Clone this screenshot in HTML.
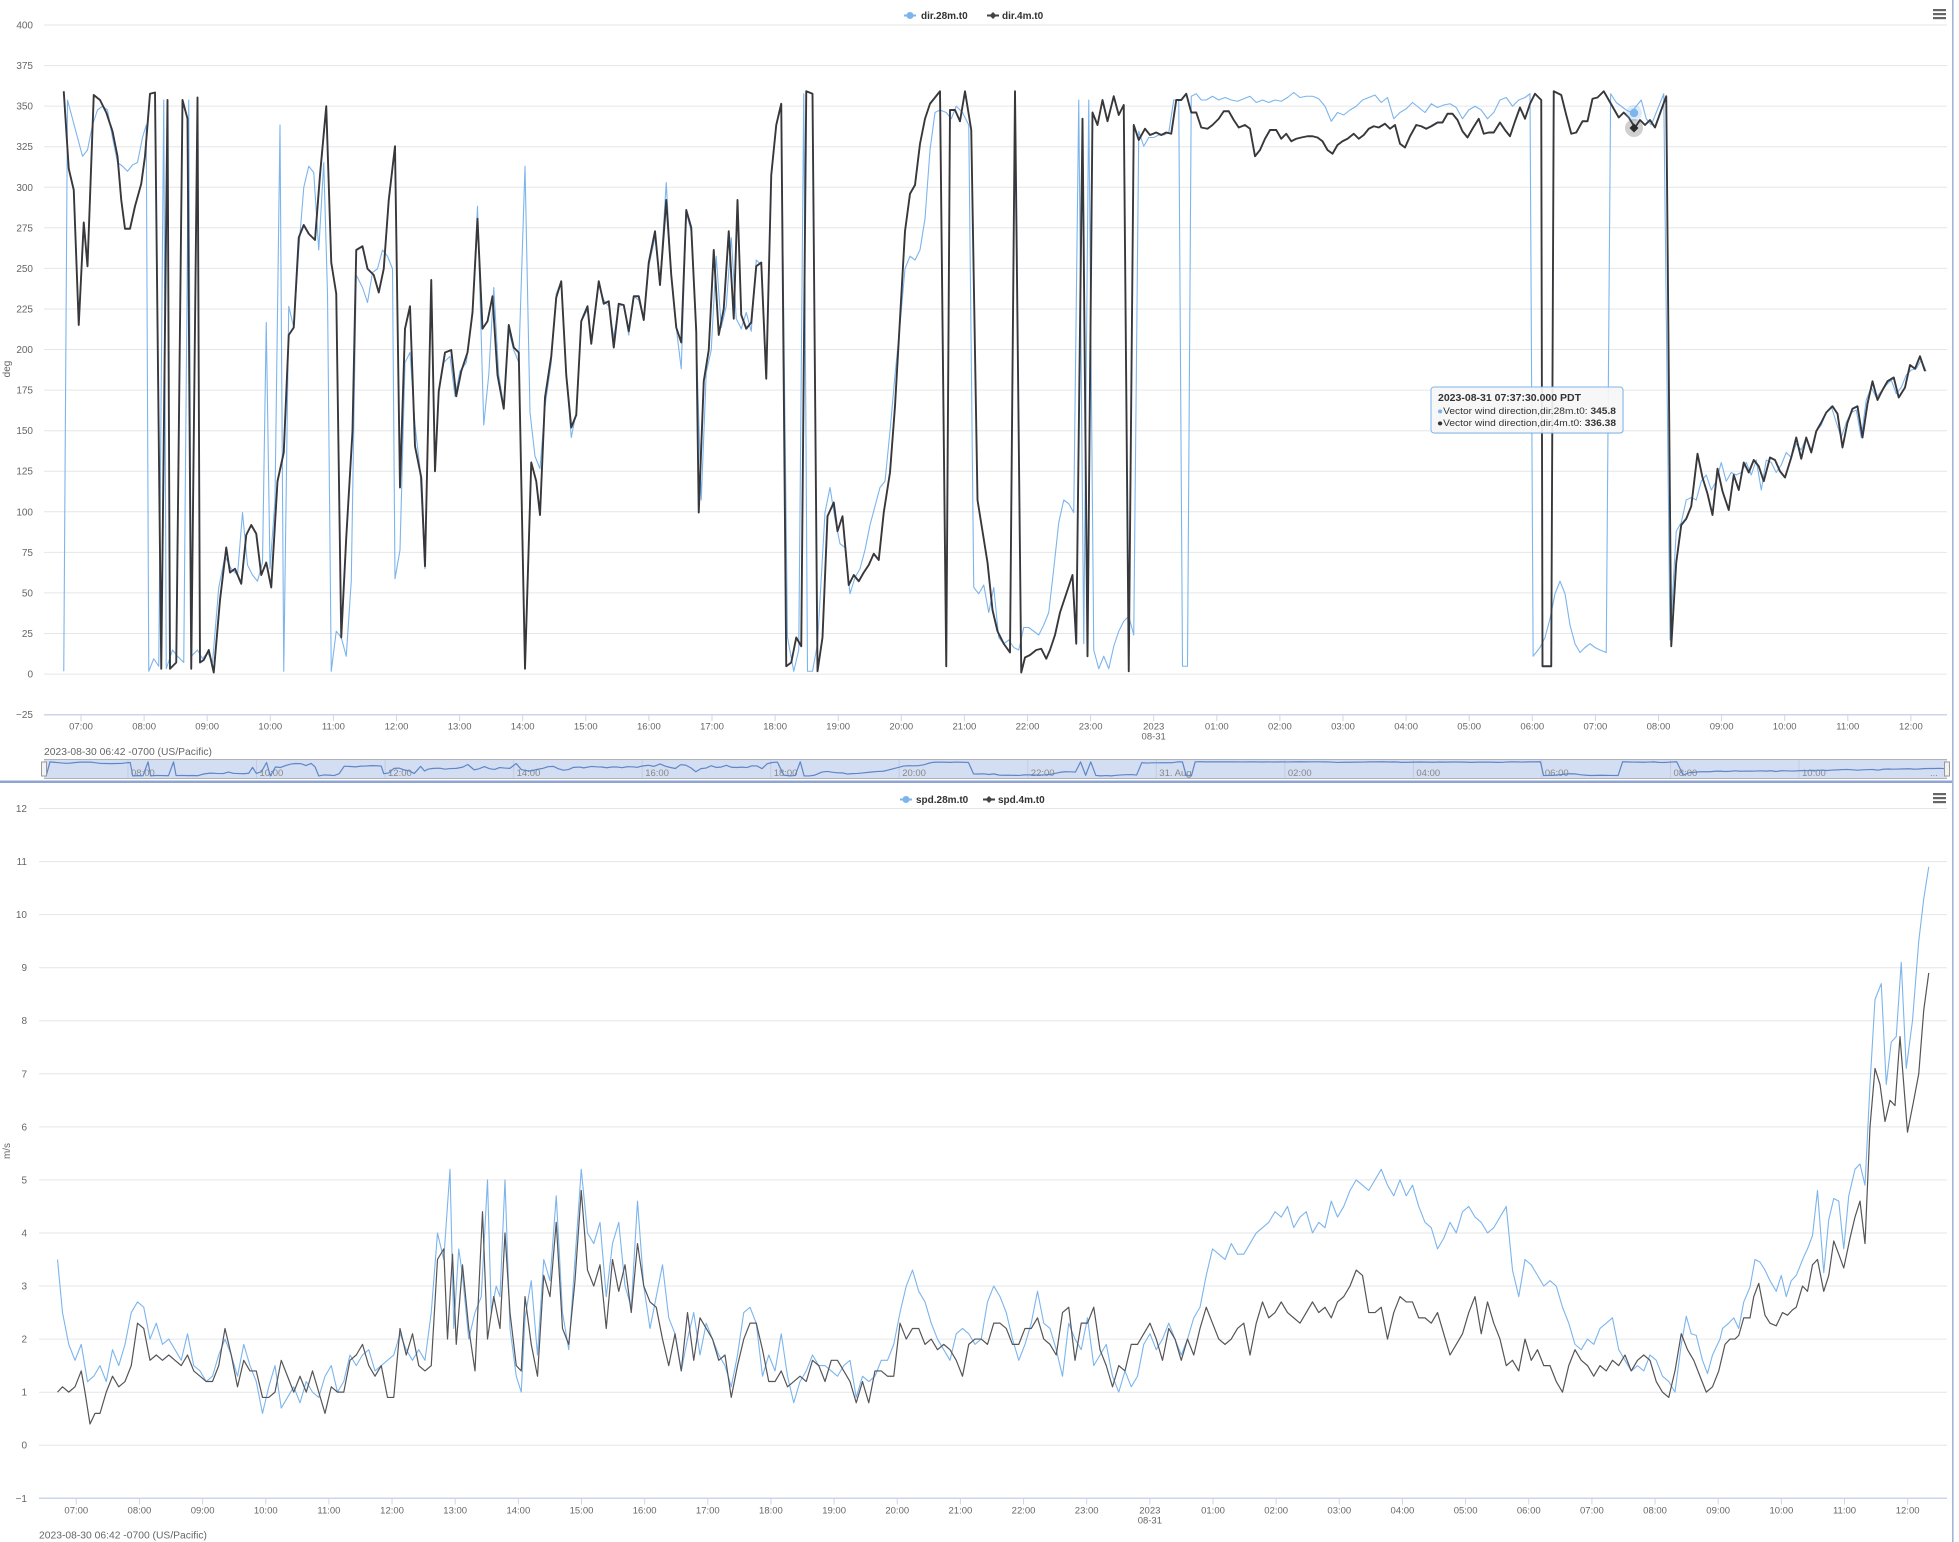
<!DOCTYPE html>
<html><head><meta charset="utf-8"><style>
html,body{margin:0;padding:0;background:#fff;}
svg{display:block;}
text{font-family:"Liberation Sans",sans-serif;}
.ln{fill:none;vector-effect:non-scaling-stroke;stroke-linejoin:round;}
</style></head><body>
<svg width="1959" height="1542" viewBox="0 0 1959 1542" xmlns="http://www.w3.org/2000/svg">
<rect x="0" y="0" width="1959" height="1542" fill="#fff"/>

<!-- ============ TOP CHART ============ -->
<g stroke="#e6e6e6" stroke-width="1">
<path d="M44 25H1947M44 65.6H1947M44 106.1H1947M44 146.7H1947M44 187.3H1947M44 227.8H1947M44 268.4H1947M44 309H1947M44 349.5H1947M44 390.1H1947M44 430.7H1947M44 471.2H1947M44 511.8H1947M44 552.4H1947M44 592.9H1947M44 633.5H1947M44 674.1H1947"/>
</g>
<path d="M44 714.7H1947" stroke="#ccd6eb" stroke-width="1.5"/>
<g stroke="#ccd6eb" stroke-width="1">
<path d="M81 715v6M144.1 715v6M207.2 715v6M270.3 715v6M333.4 715v6M396.5 715v6M459.6 715v6M522.7 715v6M585.8 715v6M648.9 715v6M712 715v6M775.1 715v6M838.2 715v6M901.3 715v6M964.4 715v6M1027.5 715v6M1090.6 715v6M1153.7 715v6M1216.8 715v6M1279.9 715v6M1343 715v6M1406.1 715v6M1469.2 715v6M1532.3 715v6M1595.4 715v6M1658.5 715v6M1721.6 715v6M1784.7 715v6M1847.8 715v6M1910.9 715v6"/>
</g>
<g font-size="10" fill="#666" text-anchor="end">
<text x="33" y="28.5">400</text><text x="33" y="69.1">375</text><text x="33" y="109.6">350</text><text x="33" y="150.2">325</text><text x="33" y="190.8">300</text><text x="33" y="231.3">275</text><text x="33" y="271.9">250</text><text x="33" y="312.5">225</text><text x="33" y="353">200</text><text x="33" y="393.6">175</text><text x="33" y="434.2">150</text><text x="33" y="474.7">125</text><text x="33" y="515.3">100</text><text x="33" y="555.9">75</text><text x="33" y="596.4">50</text><text x="33" y="637">25</text><text x="33" y="677.6">0</text><text x="33" y="718.2">−25</text>
</g>
<text transform="translate(10,369) rotate(-90)" font-size="10" fill="#666" text-anchor="middle">deg</text>
<g font-size="9.5" fill="#666" text-anchor="middle">
<text x="81" y="729.5">07:00</text><text x="144.1" y="729.5">08:00</text><text x="207.2" y="729.5">09:00</text><text x="270.3" y="729.5">10:00</text><text x="333.4" y="729.5">11:00</text><text x="396.5" y="729.5">12:00</text><text x="459.6" y="729.5">13:00</text><text x="522.7" y="729.5">14:00</text><text x="585.8" y="729.5">15:00</text><text x="648.9" y="729.5">16:00</text><text x="712" y="729.5">17:00</text><text x="775.1" y="729.5">18:00</text><text x="838.2" y="729.5">19:00</text><text x="901.3" y="729.5">20:00</text><text x="964.4" y="729.5">21:00</text><text x="1027.5" y="729.5">22:00</text><text x="1090.6" y="729.5">23:00</text><text x="1153.7" y="729.5">2023</text><text x="1153.7" y="739.5">08-31</text><text x="1216.8" y="729.5">01:00</text><text x="1279.9" y="729.5">02:00</text><text x="1343" y="729.5">03:00</text><text x="1406.1" y="729.5">04:00</text><text x="1469.2" y="729.5">05:00</text><text x="1532.3" y="729.5">06:00</text><text x="1595.4" y="729.5">07:00</text><text x="1658.5" y="729.5">08:00</text><text x="1721.6" y="729.5">09:00</text><text x="1784.7" y="729.5">10:00</text><text x="1847.8" y="729.5">11:00</text><text x="1910.9" y="729.5">12:00</text>
</g>
<text x="44" y="755" font-size="10" fill="#666" textLength="168" lengthAdjust="spacingAndGlyphs">2023-08-30 06:42 -0700 (US/Pacific)</text>

<!-- legend top -->
<path d="M904 15.5H916" stroke="#7cb5ec" stroke-width="2"/><circle cx="910" cy="15.5" r="3.5" fill="#7cb5ec"/>
<text x="921" y="19" font-size="10" font-weight="bold" fill="#333">dir.28m.t0</text>
<path d="M987 15.5H999" stroke="#434348" stroke-width="2"/><path d="M993 12l3.5 3.5-3.5 3.5-3.5-3.5z" fill="#434348"/>
<text x="1002" y="19" font-size="10" font-weight="bold" fill="#333">dir.4m.t0</text>
<!-- menu -->
<g fill="#666"><rect x="1933" y="9" width="13" height="2.2"/><rect x="1933" y="13" width="13" height="2.2"/><rect x="1933" y="17" width="13" height="2.2"/></g>

<!-- top series light -->
<polyline class="ln" transform="scale(1.25)" stroke="#7cb5ec" stroke-width="1.1" points="51,537 54,80 58,95 62,110 66,125 70,120 74,100 78,88 82,85 86,88 90,110 94,130 98,133 102,137 106,132 110,130 114,110 117,100 119,537 123,527 127,533 131,80 133,535 138,520 142,525 147,530 151,80 153,525 158,520 162,527 166,522 170,530 175,470 180,445 185,455 190,460 194,410 198,452 202,460 206,465 210,450 213,258 216,455 220,400 224,100 227,537 231,245 235,262 239,200 243,150 247,133 251,138 255,200 259,130 262,235 265,537 269,505 273,510 277,525 281,465 285,220 290,230 294,242 298,218 302,215 306,200 310,205 314,215 316,463 320,440 324,290 328,282 332,340 336,375 340,455 345,224 348,377 351,313 355,290 360,285 364,317 368,297 373,290 378,250 382,165 387,340 391,300 395,230 399,300 403,325 407,265 411,280 415,290 420,133 424,330 428,365 432,375 436,325 441,290 445,235 449,225 453,300 457,350 461,330 465,257 470,248 473,275 479,228 483,240 487,245 491,270 495,245 499,244 503,268 507,237 511,240 515,256 519,213 524,190 528,226 533,146 537,220 541,262 545,295 549,170 553,185 557,270 561,400 565,298 569,280 573,205 577,262 581,245 585,190 589,255 593,263 597,250 601,265 605,208 609,212 613,300 617,140 621,100 625,85 630,510 635,537 639,520 643,75 646,537 650,537 654,515 660,410 664,390 668,415 672,435 676,438 680,475 684,462 688,455 692,440 696,420 700,405 704,390 708,385 712,345 716,300 720,260 724,215 728,205 732,208 736,200 740,175 744,120 748,90 752,88 757,90 761,95 765,85 770,90 775,100 779,470 783,475 787,468 791,490 795,470 799,510 803,515 807,512 811,518 815,520 819,502 823,502 827,505 831,508 835,500 839,490 843,455 847,418 851,400 855,403 859,410 863,80 867,515 871,80 875,520 879,535 883,525 887,535 891,517 895,505 899,497 903,493 907,508 911,105 915,117 919,110 923,110 927,108 931,108 935,106 939,80 943,80 946,533 950,533 953,77 957,75 961,80 965,80 970,77 975,80 980,78 985,80 990,81 995,79 1000,77 1005,82 1010,80 1015,82 1020,80 1025,81 1030,78 1035,74 1040,78 1045,77 1050,77 1055,79 1060,85 1065,97 1070,90 1075,92 1080,88 1085,85 1090,80 1095,78 1100,76 1105,82 1110,78 1115,95 1120,90 1125,87 1130,82 1135,86 1140,90 1145,83 1150,86 1155,84 1160,83 1165,86 1170,95 1175,88 1180,85 1185,88 1190,95 1195,90 1200,80 1205,78 1210,85 1215,80 1220,78 1224,75 1226.5,525 1232,518 1236,510 1240,495 1244,475 1248,465 1252,475 1256,500 1260,515 1264,522 1268,518 1272,515 1276,518 1280,520 1285,522 1288.5,75 1293,82 1297,85 1301,88 1305,90 1309,85 1313,80 1317,95 1321,100 1325,90 1331,75 1336,512 1341,425 1345,418 1349,400 1353,398 1357,400 1361,385 1365,380 1369,392 1373,385 1377,370 1381,385 1385,378 1389,380 1393,378 1397,370 1401,380 1405,368 1409,392 1413,368 1417,370 1421,378 1425,372 1429,362 1433,366 1437,355 1441,360 1445,350 1449,360 1453,345 1457,340 1461,330 1465,325 1469,338 1473,350 1477,338 1481,330 1485,328 1489,350 1493,320 1497,310 1501,318 1505,313 1509,308 1513,304 1517,315 1521,310 1525,300 1529,296 1533,295 1537,288 1541,297"/>
<!-- top series dark -->
<polyline class="ln" transform="scale(1.25)" stroke="#38383c" stroke-width="1.9" points="51,73 55,135 59,152 63,260 67,178 70,213 75,76 80,80 85,90 90,105 94,125 97,160 100,183 104,183 108,165 113,147 116,125 120,75 124,74 129,535 134,80 136,535 141,530 146,80 150,95 153,535 158,78 160,530 163,528 167,520 171,538 176,480 181,438 184,458 188,455 193,467 197,428 201,420 205,427 209,460 213,450 217,470 222,385 227,362 231,268 235,262 239,190 243,180 247,187 252,192 256,140 261,85 265,210 269,235 273,510 277,430 282,345 285,200 290,197 294,215 299,220 303,234 307,215 311,160 316,117 320,390 324,263 328,245 332,357 337,382 340,453 345,224 348,377 351,313 356,282 361,280 365,317 369,297 374,282 378,250 382,175 386,263 390,257 394,237 398,300 403,327 407,260 411,278 415,282 420,535 425,370 429,385 432,412 436,318 441,285 445,238 449,225 453,300 457,342 461,332 465,257 470,245 473,275 479,225 483,243 487,241 491,278 495,243 499,244 503,265 507,237 511,237 515,256 519,210 524,185 528,228 533,160 537,220 541,262 545,274 549,168 553,182 557,265 559,410 563,305 567,280 571,200 575,268 579,247 583,185 587,255 590,160 593,252 597,263 601,258 605,213 609,210 613,303 617,140 621,100 625,83 629,533 633,530 637,510 641,517 645,73 650,75 654,537 658,510 662,413 667,402 670,425 674,413 679,468 683,460 687,465 691,458 695,452 699,443 703,448 707,410 712,378 716,325 720,255 724,185 728,155 732,148 736,115 740,95 744,83 752,73 757,533 760,88 764,88 768,97 772,73 777,104 782,400 786,425 790,450 794,488 798,505 803,515 808,522 812,73 817,538 820,526 824,524 829,520 833,519 837,527 840,520 844,508 848,490 853,475 858,460 861,515 866,95 870,525 874,90 878,100 882,80 886,97 891,77 895,92 899,84 903,537 907,100 911,112 916,103 920,108 925,106 929,108 933,106 937,107 941,80 945,80 949,75 953,90 957,90 961,102 966,103 970,100 975,95 979,89 983,89 987,96 991,102 996,100 1000,103 1004,125 1008,120 1012,111 1016,104 1021,104 1025,111 1029,107 1033,113 1037,111 1041,110 1046,109 1050,109 1054,110 1058,113 1062,120 1066,123 1070,116 1074,113 1078,111 1083,107 1087,111 1091,108 1095,103 1099,101 1103,102 1108,99 1112,103 1116,100 1120,115 1124,118 1128,109 1133,100 1137,101 1141,103 1145,101 1150,98 1154,98 1158,91 1162,91 1166,96 1170,105 1174,110 1178,103 1183,95 1187,107 1191,106 1195,106 1200,98 1204,104 1208,109 1212,97 1216,86 1220,95 1224,83 1228,75 1233,80 1234,533 1241,533 1243,73 1249,76 1253,92 1257,107 1261,106 1266,97 1270,97 1274,79 1278,78 1283,73 1287,80 1291,87 1295,94 1299,90 1303,94 1308,102 1312,96 1316,100 1320,96 1324,102 1329,88 1333,77 1337,517 1341,450 1345,420 1349,415 1353,405 1358,363 1362,382 1366,395 1370,412 1374,375 1378,393 1383,408 1387,380 1391,392 1395,370 1399,378 1403,368 1407,373 1411,385 1416,366 1420,368 1424,377 1428,382 1433,366 1437,350 1441,367 1445,350 1449,362 1453,345 1457,338 1461,330 1466,325 1470,331 1474,358 1478,338 1482,327 1486,325 1490,350 1494,323 1498,305 1502,320 1506,312 1510,305 1515,302 1519,318 1524,310 1528,292 1532,295 1536,285 1540,297"/>

<!-- hover markers -->
<circle cx="1634" cy="113" r="8" fill="#7cb5ec" fill-opacity="0.25"/>
<circle cx="1634" cy="113" r="4.2" fill="#7cb5ec"/>
<circle cx="1634" cy="128" r="9" fill="#434348" fill-opacity="0.25"/>
<path d="M1634 123.5l4.5 4.5-4.5 4.5-4.5-4.5z" fill="#2a2a2e"/>

<!-- tooltip -->
<rect x="1432" y="388" width="192" height="46" rx="3" fill="#000" fill-opacity="0.05"/>
<rect x="1431" y="387" width="192" height="46" rx="3" fill="#f7f7f7" fill-opacity="0.92" stroke="#7cb5ec" stroke-width="1"/>
<text x="1438" y="401" font-size="10" font-weight="bold" fill="#333" textLength="143" lengthAdjust="spacingAndGlyphs">2023-08-31 07:37:30.000 PDT</text>
<text x="1437" y="414" font-size="9.5" fill="#333" textLength="179" lengthAdjust="spacingAndGlyphs"><tspan fill="#7cb5ec">●</tspan>Vector wind direction,dir.28m.t0: <tspan font-weight="bold">345.8</tspan></text>
<text x="1437" y="426" font-size="9.5" fill="#333" textLength="179" lengthAdjust="spacingAndGlyphs"><tspan fill="#333">●</tspan>Vector wind direction,dir.4m.t0: <tspan font-weight="bold">336.38</tspan></text>

<!-- navigator -->
<rect x="44" y="759" width="1903" height="20" fill="#d4def2"/>
<g stroke="#c3cde3" stroke-width="1">
<path d="M128 759v20M256.5 759v20M385.1 759v20M513.6 759v20M642.2 759v20M770.7 759v20M899.2 759v20M1027.8 759v20M1156.3 759v20M1284.9 759v20M1413.4 759v20M1541.9 759v20M1670.5 759v20M1799 759v20"/>
</g>
<g font-size="9.5" fill="#888">
<text x="131" y="776">08:00</text><text x="259.5" y="776">10:00</text><text x="388" y="776">12:00</text><text x="516.6" y="776">14:00</text><text x="645.2" y="776">16:00</text><text x="773.7" y="776">18:00</text><text x="902.2" y="776">20:00</text><text x="1030.8" y="776">22:00</text><text x="1159.3" y="776">31. Aug</text><text x="1287.9" y="776">02:00</text><text x="1416.4" y="776">04:00</text><text x="1544.9" y="776">06:00</text><text x="1673.5" y="776">08:00</text><text x="1802" y="776">10:00</text><text x="1930" y="776">...</text>
</g>
<polyline class="ln" transform="matrix(1.2739 0 0 0.0307 -18.82 759.45)" stroke="#5f86c8" stroke-width="1.2" points="51,537 54,80 58,95 62,110 66,125 70,120 74,100 78,88 82,85 86,88 90,110 94,130 98,133 102,137 106,132 110,130 114,110 117,100 119,537 123,527 127,533 131,80 133,535 138,520 142,525 147,530 151,80 153,525 158,520 162,527 166,522 170,530 175,470 180,445 185,455 190,460 194,410 198,452 202,460 206,465 210,450 213,258 216,455 220,400 224,100 227,537 231,245 235,262 239,200 243,150 247,133 251,138 255,200 259,130 262,235 265,537 269,505 273,510 277,525 281,465 285,220 290,230 294,242 298,218 302,215 306,200 310,205 314,215 316,463 320,440 324,290 328,282 332,340 336,375 340,455 345,224 348,377 351,313 355,290 360,285 364,317 368,297 373,290 378,250 382,165 387,340 391,300 395,230 399,300 403,325 407,265 411,280 415,290 420,133 424,330 428,365 432,375 436,325 441,290 445,235 449,225 453,300 457,350 461,330 465,257 470,248 473,275 479,228 483,240 487,245 491,270 495,245 499,244 503,268 507,237 511,240 515,256 519,213 524,190 528,226 533,146 537,220 541,262 545,295 549,170 553,185 557,270 561,400 565,298 569,280 573,205 577,262 581,245 585,190 589,255 593,263 597,250 601,265 605,208 609,212 613,300 617,140 621,100 625,85 630,510 635,537 639,520 643,75 646,537 650,537 654,515 660,410 664,390 668,415 672,435 676,438 680,475 684,462 688,455 692,440 696,420 700,405 704,390 708,385 712,345 716,300 720,260 724,215 728,205 732,208 736,200 740,175 744,120 748,90 752,88 757,90 761,95 765,85 770,90 775,100 779,470 783,475 787,468 791,490 795,470 799,510 803,515 807,512 811,518 815,520 819,502 823,502 827,505 831,508 835,500 839,490 843,455 847,418 851,400 855,403 859,410 863,80 867,515 871,80 875,520 879,535 883,525 887,535 891,517 895,505 899,497 903,493 907,508 911,105 915,117 919,110 923,110 927,108 931,108 935,106 939,80 943,80 946,533 950,533 953,77 957,75 961,80 965,80 970,77 975,80 980,78 985,80 990,81 995,79 1000,77 1005,82 1010,80 1015,82 1020,80 1025,81 1030,78 1035,74 1040,78 1045,77 1050,77 1055,79 1060,85 1065,97 1070,90 1075,92 1080,88 1085,85 1090,80 1095,78 1100,76 1105,82 1110,78 1115,95 1120,90 1125,87 1130,82 1135,86 1140,90 1145,83 1150,86 1155,84 1160,83 1165,86 1170,95 1175,88 1180,85 1185,88 1190,95 1195,90 1200,80 1205,78 1210,85 1215,80 1220,78 1224,75 1226.5,525 1232,518 1236,510 1240,495 1244,475 1248,465 1252,475 1256,500 1260,515 1264,522 1268,518 1272,515 1276,518 1280,520 1285,522 1288.5,75 1293,82 1297,85 1301,88 1305,90 1309,85 1313,80 1317,95 1321,100 1325,90 1331,75 1336,512 1341,425 1345,418 1349,400 1353,398 1357,400 1361,385 1365,380 1369,392 1373,385 1377,370 1381,385 1385,378 1389,380 1393,378 1397,370 1401,380 1405,368 1409,392 1413,368 1417,370 1421,378 1425,372 1429,362 1433,366 1437,355 1441,360 1445,350 1449,360 1453,345 1457,340 1461,330 1465,325 1469,338 1473,350 1477,338 1481,330 1485,328 1489,350 1493,320 1497,310 1501,318 1505,313 1509,308 1513,304 1517,315 1521,310 1525,300 1529,296 1533,295 1537,288 1541,297"/>
<path d="M44 759.5H1947M44 778.5H1947" stroke="#b2b1b6" stroke-width="1"/>
<rect x="41.5" y="762" width="5" height="14" fill="#f2f2f2" stroke="#999" stroke-width="1"/>
<rect x="1944.5" y="762" width="5" height="14" fill="#f2f2f2" stroke="#999" stroke-width="1"/>

<!-- separators -->
<rect x="0" y="780.5" width="1953" height="2.5" fill="#8ea4d2"/>
<rect x="1952" y="0" width="1.6" height="1542" fill="#a3b4d8"/>

<!-- ============ BOTTOM CHART ============ -->
<g stroke="#e6e6e6" stroke-width="1">
<path d="M39 808.5H1947M39 861.6H1947M39 914.6H1947M39 967.7H1947M39 1020.7H1947M39 1073.8H1947M39 1126.9H1947M39 1179.9H1947M39 1233H1947M39 1286H1947M39 1339.1H1947M39 1392.2H1947M39 1445.2H1947"/>
</g>
<path d="M39 1498.3H1947" stroke="#ccd6eb" stroke-width="1.5"/>
<g stroke="#ccd6eb" stroke-width="1">
<path d="M76.3 1498.5v6M139.45 1498.5v6M202.6 1498.5v6M265.75 1498.5v6M328.9 1498.5v6M392.05 1498.5v6M455.2 1498.5v6M518.35 1498.5v6M581.5 1498.5v6M644.65 1498.5v6M707.8 1498.5v6M770.95 1498.5v6M834.1 1498.5v6M897.25 1498.5v6M960.4 1498.5v6M1023.55 1498.5v6M1086.7 1498.5v6M1149.85 1498.5v6M1213 1498.5v6M1276.15 1498.5v6M1339.3 1498.5v6M1402.45 1498.5v6M1465.6 1498.5v6M1528.75 1498.5v6M1591.9 1498.5v6M1655.05 1498.5v6M1718.2 1498.5v6M1781.35 1498.5v6M1844.5 1498.5v6M1907.65 1498.5v6"/>
</g>
<g font-size="10" fill="#666" text-anchor="end">
<text x="27" y="812">12</text><text x="27" y="865.1">11</text><text x="27" y="918.1">10</text><text x="27" y="971.2">9</text><text x="27" y="1024.2">8</text><text x="27" y="1077.3">7</text><text x="27" y="1130.4">6</text><text x="27" y="1183.4">5</text><text x="27" y="1236.5">4</text><text x="27" y="1289.5">3</text><text x="27" y="1342.6">2</text><text x="27" y="1395.7">1</text><text x="27" y="1448.7">0</text><text x="27" y="1501.8">−1</text>
</g>
<text transform="translate(10,1151) rotate(-90)" font-size="10" fill="#666" text-anchor="middle">m/s</text>
<g font-size="9.5" fill="#666" text-anchor="middle">
<text x="76.3" y="1513.5">07:00</text><text x="139.45" y="1513.5">08:00</text><text x="202.6" y="1513.5">09:00</text><text x="265.75" y="1513.5">10:00</text><text x="328.9" y="1513.5">11:00</text><text x="392.05" y="1513.5">12:00</text><text x="455.2" y="1513.5">13:00</text><text x="518.35" y="1513.5">14:00</text><text x="581.5" y="1513.5">15:00</text><text x="644.65" y="1513.5">16:00</text><text x="707.8" y="1513.5">17:00</text><text x="770.95" y="1513.5">18:00</text><text x="834.1" y="1513.5">19:00</text><text x="897.25" y="1513.5">20:00</text><text x="960.4" y="1513.5">21:00</text><text x="1023.55" y="1513.5">22:00</text><text x="1086.7" y="1513.5">23:00</text><text x="1149.85" y="1513.5">2023</text><text x="1149.85" y="1523.5">08-31</text><text x="1213" y="1513.5">01:00</text><text x="1276.15" y="1513.5">02:00</text><text x="1339.3" y="1513.5">03:00</text><text x="1402.45" y="1513.5">04:00</text><text x="1465.6" y="1513.5">05:00</text><text x="1528.75" y="1513.5">06:00</text><text x="1591.9" y="1513.5">07:00</text><text x="1655.05" y="1513.5">08:00</text><text x="1718.2" y="1513.5">09:00</text><text x="1781.35" y="1513.5">10:00</text><text x="1844.5" y="1513.5">11:00</text><text x="1907.65" y="1513.5">12:00</text>
</g>
<text x="39" y="1538.5" font-size="10" fill="#666" textLength="168" lengthAdjust="spacingAndGlyphs">2023-08-30 06:42 -0700 (US/Pacific)</text>

<!-- legend bottom -->
<path d="M900 799.5H912" stroke="#7cb5ec" stroke-width="2"/><circle cx="906" cy="799.5" r="3.5" fill="#7cb5ec"/>
<text x="916" y="803" font-size="10" font-weight="bold" fill="#333">spd.28m.t0</text>
<path d="M983 799.5H995" stroke="#434348" stroke-width="2"/><path d="M989 796l3.5 3.5-3.5 3.5-3.5-3.5z" fill="#434348"/>
<text x="998" y="803" font-size="10" font-weight="bold" fill="#333">spd.4m.t0</text>
<g fill="#666"><rect x="1933" y="793" width="13" height="2.2"/><rect x="1933" y="797" width="13" height="2.2"/><rect x="1933" y="801" width="13" height="2.2"/></g>

<!-- bottom series light -->
<polyline class="ln" transform="matrix(1.25 0 0 -53.06 0 1445.2)" stroke="#7cb5ec" stroke-width="1.1" points="46,3.5 50,2.5 55,1.9 60,1.6 65,1.9 70,1.2 75,1.3 80,1.5 85,1.2 90,1.8 95,1.5 100,1.9 105,2.5 110,2.7 115,2.6 120,2.0 125,2.3 130,1.9 135,2.0 140,1.8 145,1.6 150,2.1 155,1.5 160,1.4 165,1.2 170,1.3 175,1.7 180,2.0 185,1.7 190,1.3 195,1.9 200,1.5 205,1.2 210,0.6 215,1.1 220,1.5 225,0.7 230,0.9 235,1.1 240,0.8 245,1.2 250,1.0 255,0.9 260,1.3 265,1.5 270,1.0 275,1.2 280,1.7 285,1.5 290,1.7 295,1.8 300,1.4 305,1.5 310,1.6 315,1.7 320,2.1 325,1.8 330,1.6 335,1.8 340,1.6 345,2.5 350,4.0 355,3.5 360,5.2 363,2.2 367,3.7 370,3.2 375,2.0 380,2.5 385,2.8 390,5.0 393,2.5 397,3.0 400,2.8 404,5.0 408,2.2 413,1.3 417,1.0 420,2.4 425,3.1 430,1.7 435,3.5 440,3.1 445,4.7 450,2.5 455,1.8 460,3.5 465,5.2 470,4.0 475,3.8 480,4.2 485,2.8 490,3.8 495,4.2 500,3.0 505,2.6 510,4.6 515,3.0 520,2.2 525,2.8 530,3.4 535,2.4 540,2.1 545,1.4 550,2.0 555,2.5 560,1.7 565,2.3 570,2.0 575,1.7 580,1.5 585,1.1 590,1.7 595,2.5 600,2.6 605,2.3 610,1.3 615,1.7 620,1.4 625,2.1 630,1.3 635,0.8 640,1.2 645,1.4 650,1.7 655,1.5 660,1.5 665,1.4 670,1.3 675,1.5 680,1.6 685,0.9 690,1.3 695,1.2 700,1.3 705,1.6 710,1.6 715,1.9 720,2.5 725,3.0 730,3.3 735,2.9 740,2.7 745,2.3 750,2.0 755,1.8 760,1.6 765,2.1 770,2.2 775,2.1 780,1.9 785,2.0 790,2.7 795,3.0 800,2.8 805,2.5 810,2.0 815,1.6 820,1.9 825,2.3 830,2.9 835,2.3 840,2.2 845,1.8 850,1.3 855,2.3 860,2.0 865,1.8 870,2.4 875,1.5 880,1.7 885,1.9 890,1.3 895,1.0 900,1.4 905,1.1 910,1.3 915,1.9 920,2.1 925,1.8 930,2.0 935,2.3 940,2.0 945,1.7 950,2.0 955,2.4 960,2.6 965,3.2 970,3.7 975,3.6 980,3.5 985,3.8 990,3.6 995,3.6 1000,3.8 1005,4.0 1010,4.1 1015,4.2 1020,4.4 1025,4.3 1030,4.5 1035,4.1 1040,4.3 1045,4.4 1050,4.0 1055,4.2 1060,4.1 1065,4.6 1070,4.3 1075,4.5 1080,4.8 1085,5.0 1090,4.9 1095,4.8 1100,5.0 1105,5.2 1110,4.9 1115,4.7 1120,5.0 1125,4.7 1130,4.9 1135,4.5 1140,4.2 1145,4.1 1150,3.7 1155,3.9 1160,4.2 1165,4.0 1170,4.4 1175,4.5 1180,4.3 1185,4.2 1190,4.0 1195,4.1 1200,4.3 1205,4.5 1210,3.3 1215,2.8 1220,3.5 1225,3.4 1230,3.2 1235,3.0 1240,3.1 1245,3.0 1250,2.6 1255,2.3 1260,1.9 1265,1.8 1270,2.0 1275,1.9 1280,2.2 1285,2.3 1290,2.4 1295,1.8 1300,1.6 1305,1.4 1310,1.5 1315,1.4 1320,1.7 1325,1.6 1330,1.3 1335,1.2 1340,1.0 1345,1.9 1349,2.43 1353,2.1 1357,2.07 1362,1.6 1366,1.35 1370,1.7 1374,1.9 1376,2.0 1378,2.2 1383,2.3 1387,2.4 1391,2.2 1395,2.7 1400,2.98 1404,3.5 1408,3.45 1412,3.3 1416,3.1 1421,2.9 1425,3.2 1429,2.8 1433,3.1 1437,3.2 1443,3.55 1446,3.7 1450,3.95 1454,4.8 1459,3.25 1463,4.25 1467,4.65 1471,4.6 1475,3.7 1479,4.7 1484,5.2 1488,5.3 1492,4.9 1496,6.8 1500,8.4 1505,8.7 1509,6.8 1513,7.6 1517,7.7 1521,9.1 1525,7.1 1530,8.0 1535,9.5 1539,10.3 1543,10.9"/>
<!-- bottom series dark -->
<polyline class="ln" transform="matrix(1.25 0 0 -53.06 0 1445.2)" stroke="#555558" stroke-width="1.2" points="46,1.0 50,1.1 55,1.0 60,1.1 65,1.4 68,1.0 72,0.4 76,0.6 80,0.6 85,1.0 90,1.3 95,1.1 100,1.2 105,1.5 110,2.3 115,2.2 120,1.6 125,1.7 130,1.6 135,1.7 140,1.6 145,1.5 150,1.7 155,1.4 160,1.3 165,1.2 170,1.2 175,1.5 180,2.2 185,1.7 190,1.1 195,1.6 200,1.4 205,1.4 210,0.9 215,0.9 220,1.0 225,1.6 230,1.3 235,1.0 240,1.3 245,1.0 250,1.4 255,1.0 260,0.6 265,1.1 270,1.0 275,1.0 280,1.6 285,1.7 290,1.9 295,1.5 300,1.3 305,1.5 310,0.9 315,0.9 320,2.2 325,1.7 330,2.1 335,1.5 340,1.4 345,1.5 350,3.5 355,3.7 358,2.0 362,3.6 365,1.9 370,3.4 375,2.2 380,1.4 386,4.4 390,2.0 395,2.8 400,2.2 404,4.0 408,2.5 413,1.5 417,1.4 420,2.8 425,1.9 430,1.3 435,3.2 440,2.8 445,4.2 450,2.2 455,1.9 460,3.1 465,4.8 470,3.3 475,3.0 480,3.4 485,2.2 490,3.5 495,2.9 500,3.4 505,2.5 510,3.8 515,3.0 520,2.7 525,2.6 530,2.0 535,1.5 540,2.1 545,1.4 550,2.5 555,1.6 560,2.4 565,2.2 570,2.0 575,1.6 580,1.7 585,0.9 590,1.5 595,2.0 600,2.3 605,2.3 610,1.8 615,1.2 620,1.2 625,1.4 630,1.1 635,1.2 640,1.3 645,1.2 650,1.6 655,1.5 660,1.2 665,1.6 670,1.6 675,1.4 680,1.2 685,0.8 690,1.2 695,0.8 700,1.4 705,1.4 710,1.3 715,1.3 720,2.3 725,2.0 730,2.2 735,2.2 740,1.9 745,2.0 750,1.8 755,1.9 760,1.8 765,1.6 770,1.3 775,1.9 780,2.0 785,2.0 790,1.9 795,2.3 800,2.3 805,2.2 810,1.9 815,1.9 820,2.2 825,2.2 830,2.4 835,2.0 840,1.9 845,1.7 850,2.5 855,2.6 860,1.6 865,2.3 870,2.3 875,2.6 880,1.8 885,1.5 890,1.1 895,1.5 900,1.4 905,1.9 910,1.9 915,2.1 920,2.3 925,2.0 930,1.6 935,2.2 940,2.0 945,1.6 950,2.0 955,1.7 960,2.2 965,2.6 970,2.3 975,2.0 980,1.9 985,2.0 990,2.2 995,2.3 1000,1.7 1005,2.3 1010,2.7 1015,2.4 1020,2.5 1025,2.7 1030,2.5 1035,2.4 1040,2.3 1045,2.5 1050,2.7 1055,2.5 1060,2.6 1065,2.4 1070,2.7 1075,2.8 1080,3.0 1085,3.3 1090,3.2 1095,2.5 1100,2.5 1105,2.6 1110,2.0 1115,2.5 1120,2.8 1125,2.7 1130,2.7 1135,2.4 1140,2.4 1145,2.3 1150,2.5 1155,2.1 1160,1.7 1165,1.9 1170,2.1 1175,2.5 1180,2.8 1185,2.1 1190,2.7 1195,2.3 1200,2.0 1205,1.5 1210,1.6 1215,1.4 1220,2.0 1225,1.6 1230,1.8 1235,1.5 1240,1.5 1245,1.2 1250,1.0 1255,1.5 1260,1.8 1265,1.6 1270,1.5 1275,1.3 1280,1.5 1285,1.4 1290,1.6 1295,1.5 1300,1.7 1305,1.4 1310,1.6 1315,1.7 1320,1.6 1325,1.2 1330,1.0 1335,0.9 1340,1.4 1345,2.1 1350,1.8 1355,1.6 1360,1.3 1365,1.0 1370,1.1 1375,1.4 1380,1.9 1384,2.0 1388,2.0 1391,2.07 1395,2.4 1400,2.4 1403,2.8 1407,3.05 1412,2.45 1416,2.3 1421,2.25 1426,2.5 1430,2.45 1434,2.55 1437,2.6 1442,3.0 1446,2.9 1450,3.4 1454,3.5 1459,2.9 1463,3.2 1467,3.85 1471,3.6 1475,3.34 1480,3.9 1484,4.3 1488,4.6 1492,3.8 1496,6.0 1500,7.1 1504,6.8 1508,6.1 1512,6.5 1516,6.4 1520,7.7 1526,5.9 1531,6.5 1535,7.0 1539,8.2 1543,8.9"/>
</svg>
</body></html>
